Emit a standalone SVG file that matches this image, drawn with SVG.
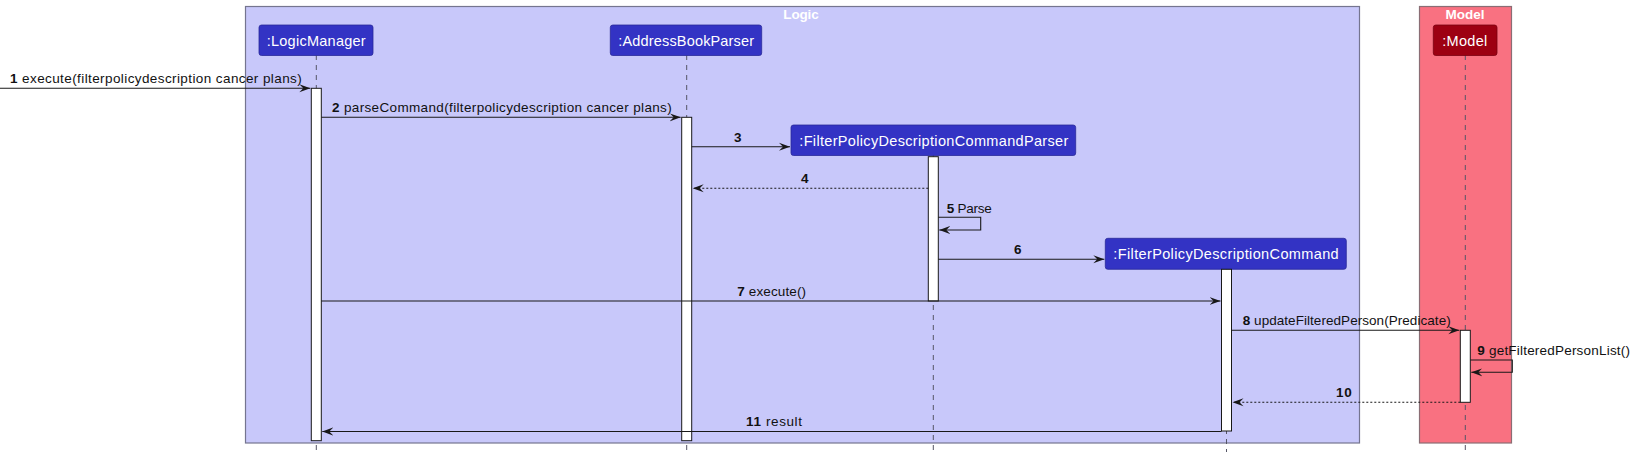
<svg xmlns="http://www.w3.org/2000/svg" width="1636" height="455" viewBox="0 0 1636 455">
<defs>
<style>
.box{fill:#C8C8FA;stroke:#75758F;stroke-width:1.2}
.mbox{fill:#F97181;stroke:#8A6D74;stroke-width:1.2}
.title{font-family:"Liberation Sans",Arial,sans-serif;font-size:13.5px;font-weight:bold;fill:#FFFFFF;text-anchor:middle}
.part{fill:#3333C4;stroke:#2A2A99;stroke-width:0.8}
.mpart{fill:#9D0012;stroke:#7A0010;stroke-width:0.8}
.ptxt{font-family:"Liberation Sans",Arial,sans-serif;font-size:14.5px;fill:#FFFFFF;text-anchor:middle}
.life{stroke:#555566;stroke-width:1;stroke-dasharray:5,5;fill:none}
.act{fill:#FFFFFF;stroke:#181818;stroke-width:1}
.msg{stroke:#181818;stroke-width:1.1;fill:none}
.ret{stroke:#181818;stroke-width:1.1;fill:none;stroke-dasharray:2,2}
.lbl{font-family:"Liberation Sans",Arial,sans-serif;font-size:13.5px;fill:#111111}
.num{font-weight:bold}
</style>
<marker id="arr" viewBox="0 0 12 10" refX="11" refY="5" markerWidth="12" markerHeight="10" markerUnits="userSpaceOnUse" orient="auto">
<polygon points="0,1 11,5 0,9 4,5" fill="#181818"/>
</marker>
</defs>

<g id="group-logic">
<rect class="box" x="245.5" y="6.5" width="1114" height="436.5"/>
<text class="title" x="801" y="18.5" textLength="35.4" lengthAdjust="spacing">Logic</text>
</g>
<g id="group-model">
<rect class="mbox" x="1419.5" y="6.5" width="92" height="436.5"/>
<text class="title" x="1465" y="18.5">Model</text>
</g>

<g id="lifelines">
<line class="life" x1="316.3" y1="55" x2="316.3" y2="452"/>
<line class="life" x1="686.7" y1="55" x2="686.7" y2="452"/>
<line class="life" x1="933.3" y1="155" x2="933.3" y2="452"/>
<line class="life" x1="1226.5" y1="269" x2="1226.5" y2="452"/>
<line class="life" x1="1465.3" y1="55" x2="1465.3" y2="452"/>
</g>

<g id="node-logicmanager">
<rect class="part" x="259" y="25" width="114" height="30.5" rx="2.5"/>
<text class="ptxt" x="316.2" y="45.5" textLength="99" lengthAdjust="spacing">:LogicManager</text>
<rect class="act" x="311.3" y="88.3" width="10" height="352.4"/>
</g>
<g id="node-addressbookparser">
<rect class="part" x="610.3" y="25" width="151.4" height="30.5" rx="2.5"/>
<text class="ptxt" x="686.2" y="45.5" textLength="135.7" lengthAdjust="spacing">:AddressBookParser</text>
<rect class="act" x="681.7" y="117.3" width="10" height="323.4"/>
</g>
<g id="node-parser">
<rect class="part" x="791" y="125" width="284.7" height="30.5" rx="2.5"/>
<text class="ptxt" x="933.8" y="145.5" textLength="269" lengthAdjust="spacing">:FilterPolicyDescriptionCommandParser</text>
<rect class="act" x="928.3" y="156.7" width="10" height="144.3"/>
</g>
<g id="node-command">
<rect class="part" x="1105.3" y="238.3" width="241" height="31" rx="2.5"/>
<text class="ptxt" x="1226" y="259" textLength="225.3" lengthAdjust="spacing">:FilterPolicyDescriptionCommand</text>
<rect class="act" x="1221.5" y="269.3" width="10" height="161.7"/>
</g>
<g id="node-model">
<rect class="mpart" x="1433.3" y="25" width="63.7" height="30.5" rx="2.5"/>
<text class="ptxt" x="1464.8" y="45.5" textLength="45" lengthAdjust="spacing">:Model</text>
<rect class="act" x="1460.3" y="330.3" width="10" height="72"/>
</g>

<g id="connectors">
<line class="msg" x1="0" y1="88.3" x2="310.3" y2="88.3" marker-end="url(#arr)"/>
<text class="lbl" x="10" y="82.5" textLength="291.7" lengthAdjust="spacing"><tspan class="num">1</tspan> execute(filterpolicydescription cancer plans)</text>

<line class="msg" x1="321.3" y1="117.3" x2="680.7" y2="117.3" marker-end="url(#arr)"/>
<text class="lbl" x="332" y="111.5" textLength="339.7" lengthAdjust="spacing"><tspan class="num">2</tspan> parseCommand(filterpolicydescription cancer plans)</text>

<line class="msg" x1="691.7" y1="146.7" x2="790" y2="146.7" marker-end="url(#arr)"/>
<text class="lbl" x="734" y="141.5"><tspan class="num">3</tspan></text>

<line class="ret" x1="928.3" y1="188.3" x2="692.7" y2="188.3" marker-end="url(#arr)"/>
<text class="lbl" x="801" y="182.5"><tspan class="num">4</tspan></text>

<polyline class="msg" points="938.3,217.3 980.7,217.3 980.7,230 939.3,230" marker-end="url(#arr)"/>
<text class="lbl" x="946.7" y="213" textLength="45" lengthAdjust="spacing"><tspan class="num">5</tspan> Parse</text>

<line class="msg" x1="938.3" y1="259.3" x2="1104.3" y2="259.3" marker-end="url(#arr)"/>
<text class="lbl" x="1014" y="254.3"><tspan class="num">6</tspan></text>

<line class="msg" x1="321.3" y1="301" x2="1220.5" y2="301" marker-end="url(#arr)"/>
<text class="lbl" x="737.3" y="296" textLength="68.7" lengthAdjust="spacing"><tspan class="num">7</tspan> execute()</text>

<line class="msg" x1="1231.5" y1="330.3" x2="1459.3" y2="330.3" marker-end="url(#arr)"/>
<text class="lbl" x="1242.7" y="325" textLength="208" lengthAdjust="spacing"><tspan class="num">8</tspan> updateFilteredPerson(Predicate)</text>

<polyline class="msg" points="1470.3,360 1512.3,360 1512.3,372.3 1471.3,372.3" marker-end="url(#arr)"/>
<text class="lbl" x="1477.3" y="355" textLength="152.7" lengthAdjust="spacing"><tspan class="num">9</tspan> getFilteredPersonList()</text>

<line class="ret" x1="1460.3" y1="402.3" x2="1232.5" y2="402.3" marker-end="url(#arr)"/>
<text class="lbl" x="1336" y="397.3" textLength="15.7" lengthAdjust="spacing"><tspan class="num">10</tspan></text>

<line class="msg" x1="1221.5" y1="431.5" x2="322.3" y2="431.5" marker-end="url(#arr)"/>
<text class="lbl" x="746" y="425.7" textLength="56" lengthAdjust="spacing"><tspan class="num">11</tspan> result</text>
</g>
</svg>
